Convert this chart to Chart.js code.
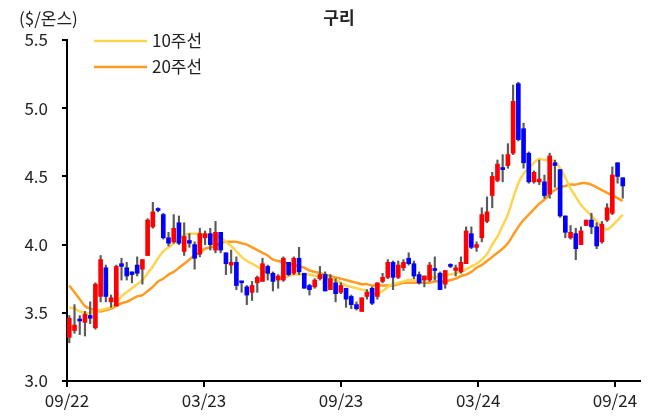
<!DOCTYPE html>
<html><head><meta charset="utf-8">
<script src="https://cdn.jsdelivr.net/npm/chart.js@4/dist/chart.umd.min.js"></script>
<style>html,body{margin:0;padding:0;background:#fff}canvas{display:block}</style>
</head><body>
<canvas id="c" width="648" height="416"></canvas>
<script>
// ---- data (weekly copper price, $/oz) ----
const opens=[3.32,3.37,3.45,3.43,3.48,3.39,3.62,3.83,3.58,3.55,
3.86,3.83,3.80,3.85,3.82,3.92,4.13,4.26,4.22,4.05,
4.02,4.16,3.95,4.03,4.00,3.93,4.05,4.08,3.96,4.09,
3.94,3.85,3.87,3.73,3.69,3.65,3.72,3.73,3.84,3.79,
3.74,3.74,3.87,3.79,3.90,3.79,3.70,3.69,3.75,3.78,
3.67,3.72,3.65,3.68,3.62,3.56,3.51,3.62,3.68,3.62,
3.73,3.76,3.87,3.76,3.83,3.90,3.86,3.78,3.74,3.74,
3.82,3.79,3.71,3.85,3.81,3.80,3.86,4.08,3.98,4.05,
4.17,4.36,4.47,4.56,4.58,4.67,5.18,4.85,4.67,4.46,
4.46,4.46,4.37,4.60,4.55,4.21,4.05,4.08,4.00,4.14,
4.18,4.13,4.02,4.18,4.23,4.60,4.49];
const closes=[3.46,3.41,3.44,3.49,3.46,3.71,3.89,3.62,3.61,3.84,
3.84,3.77,3.78,3.79,3.89,4.18,4.24,4.25,4.05,4.01,
4.12,4.01,4.06,4.01,3.90,4.08,4.08,4.00,4.09,3.96,
3.86,3.87,3.70,3.72,3.63,3.70,3.76,3.86,3.79,3.73,
3.77,3.90,3.78,3.90,3.80,3.68,3.67,3.74,3.78,3.66,
3.75,3.64,3.70,3.60,3.56,3.53,3.61,3.65,3.57,3.72,
3.76,3.87,3.76,3.85,3.87,3.86,3.77,3.72,3.77,3.85,
3.81,3.67,3.81,3.84,3.83,3.87,4.10,3.98,4.00,4.22,
4.24,4.50,4.59,4.55,4.66,5.05,4.77,4.60,4.46,4.53,
4.48,4.36,4.65,4.58,4.21,4.09,4.09,3.97,4.10,4.18,
4.13,3.99,4.15,4.27,4.51,4.50,4.43];
const highs=[3.48,3.56,3.48,3.51,3.58,3.72,3.92,3.85,3.63,3.85,
3.90,3.87,3.80,3.91,3.89,4.19,4.31,4.27,4.23,4.09,
4.22,4.21,4.16,4.08,4.02,4.12,4.10,4.12,4.17,4.09,
3.94,3.96,3.91,3.73,3.70,3.73,3.77,3.90,3.85,3.80,
3.78,3.91,3.87,3.91,3.98,3.79,3.71,3.75,3.84,3.80,
3.78,3.75,3.72,3.68,3.63,3.58,3.61,3.67,3.69,3.72,
3.79,3.89,3.88,3.88,3.89,3.94,3.88,3.80,3.77,3.87,
3.91,3.80,3.81,3.86,3.85,3.91,4.13,4.13,4.02,4.27,
4.35,4.53,4.62,4.66,4.74,5.17,5.19,4.89,4.68,4.54,
4.62,4.51,4.67,4.62,4.55,4.21,4.14,4.12,4.13,4.18,
4.23,4.16,4.17,4.30,4.57,4.60,4.49];
const lows=[3.28,3.35,3.34,3.33,3.42,3.38,3.58,3.58,3.54,3.55,
3.74,3.74,3.72,3.77,3.71,3.92,4.12,4.24,4.04,3.99,
4.01,4.00,3.92,3.98,3.82,3.91,4.00,3.96,3.94,3.94,
3.78,3.79,3.67,3.65,3.56,3.59,3.65,3.73,3.74,3.66,
3.68,3.73,3.77,3.78,3.78,3.68,3.63,3.68,3.74,3.66,
3.67,3.58,3.64,3.54,3.53,3.52,3.51,3.60,3.56,3.60,
3.72,3.75,3.67,3.75,3.81,3.85,3.75,3.71,3.69,3.73,
3.74,3.67,3.68,3.83,3.77,3.79,3.86,3.97,3.95,4.02,
4.16,4.27,4.46,4.46,4.56,4.66,4.76,4.56,4.45,4.45,
4.44,4.34,4.34,4.42,4.20,4.05,4.04,3.89,4.00,4.14,
4.08,3.97,4.01,4.17,4.22,4.45,4.34];
const ma10=[3.54,3.53,3.51,3.50,3.50,3.51,3.52,3.53,3.54,3.57,
3.62,3.65,3.68,3.71,3.74,3.79,3.84,3.90,3.95,3.98,
4.01,4.04,4.07,4.08,4.08,4.08,4.07,4.07,4.06,4.05,
4.02,3.99,3.95,3.91,3.88,3.86,3.84,3.81,3.79,3.77,
3.75,3.76,3.77,3.78,3.78,3.78,3.78,3.77,3.77,3.76,
3.75,3.74,3.72,3.70,3.69,3.68,3.67,3.66,3.64,3.64,
3.66,3.69,3.71,3.72,3.73,3.74,3.74,3.74,3.75,3.76,
3.76,3.77,3.78,3.78,3.79,3.80,3.82,3.84,3.86,3.89,
3.93,4.00,4.06,4.14,4.22,4.34,4.45,4.52,4.56,4.60,
4.63,4.62,4.62,4.61,4.56,4.49,4.41,4.35,4.29,4.25,
4.21,4.17,4.13,4.11,4.14,4.18,4.22];
const ma20=[3.70,3.65,3.60,3.55,3.53,3.52,3.51,3.52,3.53,3.55,
3.57,3.58,3.60,3.62,3.63,3.66,3.69,3.73,3.75,3.78,
3.80,3.83,3.86,3.89,3.92,3.94,3.97,3.98,3.99,4.01,
4.02,4.02,4.02,4.01,4.00,3.98,3.96,3.94,3.92,3.89,
3.88,3.87,3.86,3.85,3.84,3.83,3.81,3.80,3.79,3.78,
3.77,3.76,3.75,3.74,3.73,3.72,3.71,3.71,3.70,3.70,
3.70,3.70,3.70,3.71,3.72,3.72,3.72,3.72,3.72,3.72,
3.73,3.73,3.73,3.74,3.75,3.77,3.78,3.80,3.83,3.85,
3.88,3.91,3.94,3.97,4.01,4.07,4.13,4.18,4.22,4.26,
4.30,4.33,4.37,4.40,4.42,4.43,4.44,4.44,4.45,4.45,
4.44,4.42,4.40,4.38,4.36,4.34,4.32];
const tickWeeks=[-0.44,25.8,52.05,78.3,104.5];
const tickLabels=['09/22','03/23','09/23','03/24','09/24'];
const yTicks=[3.0,3.5,4.0,4.5,5.0,5.5];
const titleText='구리', unitText='($/온스)';
const ma10Label='10주선', ma20Label='20주선';

// ---- styles ----
const FONT="'Noto Sans CJK KR', 'Noto Sans', sans-serif";
const UP='#FF0000', DOWN='#0000FF', WICK='#5a5a5a', C10='#FFD44F', C20='#FF9B21', TXT='#222222';

const idx=opens.map((_,i)=>i);
const bodies=idx.map(i=>({x:i,y:[opens[i],closes[i]]}));
const wicks=idx.map(i=>({x:i,y:[lows[i],highs[i]]}));
const bodyColors=idx.map(i=>closes[i]>=opens[i]?UP:DOWN);

const overlay={id:'overlay',afterDraw(chart){
  const ctx=chart.ctx; ctx.save();
  ctx.fillStyle=TXT; ctx.textBaseline='middle';
  ctx.font='17px '+FONT; ctx.textAlign='left';
  ctx.fillText(unitText,19,19);
  ctx.font='bold 17px '+FONT; ctx.textAlign='center';
  ctx.fillText(titleText,339,18);
  [[ma10Label,C10,41],[ma20Label,C20,67]].forEach(([t,c,y])=>{
    ctx.strokeStyle=c; ctx.lineWidth=2.5; ctx.beginPath(); ctx.moveTo(94,y); ctx.lineTo(147,y); ctx.stroke();
    ctx.font='17px '+FONT; ctx.textAlign='left'; ctx.fillStyle=TXT; ctx.fillText(t,152,y);
  });
  ctx.restore();
}};

new Chart(document.getElementById('c'),{
  type:'bar',
  data:{datasets:[
    {type:'bar',data:bodies,backgroundColor:bodyColors,barThickness:4,minBarLength:2,grouped:false,order:0,borderWidth:0},
    {type:'bar',data:wicks,backgroundColor:WICK,barThickness:1.5,grouped:false,order:1,borderWidth:0},
    {type:'line',data:idx.map(i=>({x:i,y:ma10[i]})),borderColor:C10,borderWidth:2.5,pointRadius:0,tension:0.3,order:2,fill:false},
    {type:'line',data:idx.map(i=>({x:i,y:ma20[i]})),borderColor:C20,borderWidth:2.5,pointRadius:0,tension:0.3,order:3,fill:false}
  ]},
  options:{
    responsive:false,animation:false,devicePixelRatio:1,
    layout:{padding:{top:40,right:8,left:0,bottom:0}},
    plugins:{legend:{display:false},tooltip:{enabled:false},title:{display:false}},
    scales:{
      x:{type:'linear',min:-0.44,max:109.3,offset:false,
        grid:{drawOnChartArea:false,drawTicks:true,tickLength:6,color:'#000',lineWidth:2,offset:false},
        border:{display:true,color:'#000',width:2},
        afterBuildTicks:s=>{s.ticks=tickWeeks.map(v=>({value:v}));},
        ticks:{autoSkip:false,maxRotation:0,padding:3,color:TXT,font:{family:FONT,size:17},callback:(v,i)=>tickLabels[i]},
        afterFit:s=>{s.height=35;}
      },
      y:{min:3,max:5.5,
        afterBuildTicks:s=>{s.ticks=yTicks.map(v=>({value:v}));},
        ticks:{padding:14,color:TXT,font:{family:FONT,size:17},callback:v=>Number(v).toFixed(1)},
        grid:{drawOnChartArea:false,drawTicks:true,tickLength:5,color:'#000',lineWidth:2},
        border:{display:true,color:'#000',width:2},
        afterFit:s=>{s.width=67;}
      }
    }
  },
  plugins:[overlay]
});
</script>
</body></html>
